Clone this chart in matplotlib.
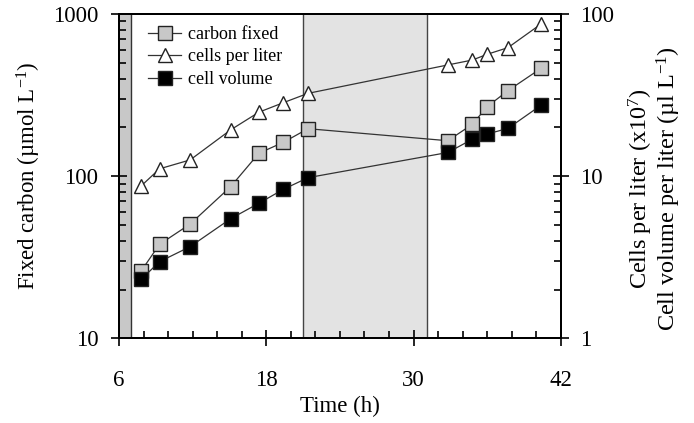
import matplotlib
matplotlib.use("Agg")
import matplotlib.pyplot as plt
from matplotlib.ticker import FixedLocator, MultipleLocator, LogLocator, NullFormatter, FuncFormatter

plt.rcParams['font.family'] = ['Liberation Serif', 'DejaVu Serif']
plt.rcParams['mathtext.fontset'] = 'custom'
plt.rcParams['mathtext.rm'] = 'Liberation Serif'
plt.rcParams['mathtext.it'] = 'Liberation Serif:italic'

# ---- data ----
time_h = [7.8, 9.3, 11.8, 15.1, 17.4, 19.4, 21.4, 32.8, 34.8, 36.0, 37.7, 40.4]
carbon_fixed = [26.0, 38.0, 50.7, 86.2, 138.5, 161.8, 196.2, 165.4, 208.9, 268.3, 336.7, 462.6]
cells_per_liter = [8.7, 11.1, 12.6, 19.3, 24.8, 28.4, 32.4, 48.5, 52.0, 56.4, 62.0, 86.8]
cell_volume = [2.31, 2.97, 3.68, 5.47, 6.81, 8.30, 9.79, 14.0, 16.9, 18.2, 19.7, 27.4]
dark_period_1 = (6.0, 7.0)
dark_period_2 = (21.0, 31.1)
x_ticks = [6, 18, 30, 42]

fig = plt.figure(figsize=(6.94, 4.23), dpi=100)
ax = fig.add_axes([0.1715, 0.200, 0.6365, 0.767])
ax2 = ax.twinx()

# shaded periods
ax.axvspan(*dark_period_1, facecolor='#c8c8c8', edgecolor='none', zorder=0)
ax.axvline(dark_period_1[1], color='#333333', lw=1.0, zorder=1)
ax.axvspan(*dark_period_2, facecolor='#e3e3e3', edgecolor='none', zorder=0)
ax.axvline(dark_period_2[0], color='#444444', lw=1.0, zorder=1)
ax.axvline(dark_period_2[1], color='#444444', lw=1.0, zorder=1)

line_kw = dict(color='#333333', lw=0.9, markeredgecolor='#222222', markeredgewidth=1.0)
h1, = ax.plot(time_h, carbon_fixed, marker='s', markersize=10, markerfacecolor='#c8c8c8',
              label='carbon fixed', **line_kw)
h2, = ax2.plot(time_h, cells_per_liter, marker='^', markersize=10.5, markerfacecolor='white',
               label='cells per liter', **line_kw)
h3, = ax2.plot(time_h, cell_volume, marker='s', markersize=10, markerfacecolor='black',
               label='cell volume', **line_kw)

ax.set_xlim(6, 42)
ax.set_yscale('log')
ax.set_ylim(10, 1000)
ax2.set_yscale('log')
ax2.set_ylim(1, 100)

ax.xaxis.set_major_locator(FixedLocator(x_ticks))
ax.xaxis.set_minor_locator(MultipleLocator(2))
fmt = FuncFormatter(lambda v, p: f"{v:g}")
ax.yaxis.set_major_locator(LogLocator(base=10, numticks=10))
ax.yaxis.set_minor_locator(LogLocator(base=10, subs=range(2, 10), numticks=20))
ax.yaxis.set_major_formatter(fmt)
ax.yaxis.set_minor_formatter(NullFormatter())
ax2.yaxis.set_major_locator(LogLocator(base=10, numticks=10))
ax2.yaxis.set_minor_locator(LogLocator(base=10, subs=range(2, 10), numticks=20))
ax2.yaxis.set_major_formatter(fmt)
ax2.yaxis.set_minor_formatter(NullFormatter())

fs = 16.5
ax.tick_params(axis='x', which='major', direction='inout', length=12, width=1.2, pad=17, labelsize=fs)
ax.tick_params(axis='x', which='minor', direction='in', length=5, width=1.2)
ax.tick_params(axis='y', which='major', direction='inout', length=12, width=1.2, pad=9, labelsize=fs)
ax.tick_params(axis='y', which='minor', direction='in', length=5, width=1.2)
ax2.tick_params(axis='y', which='major', direction='inout', length=12, width=1.2, pad=8, labelsize=fs)
ax2.tick_params(axis='y', which='minor', direction='in', length=5, width=1.2)
ax.tick_params(top=False, right=False)

for a in (ax, ax2):
    for s in a.spines.values():
        s.set_linewidth(1.4)

ax.set_xlabel('Time (h)', fontsize=fs, labelpad=3)
ax.set_ylabel(r'Fixed carbon (µmol L$^{-1}$)', fontsize=fs, labelpad=7)

fs_r = 17.5
fig.text(0.924, 0.555, r'Cells per liter (x10$^{7}$)', rotation=90, fontsize=fs_r,
         ha='center', va='center')
fig.text(0.964, 0.555, r'Cell volume per liter (µl L$^{-1}$)', rotation=90, fontsize=fs_r,
         ha='center', va='center')

leg = ax2.legend(handles=[h1, h2, h3], loc='upper left', bbox_to_anchor=(0.05, 0.985),
                 frameon=False, fontsize=13, handlelength=1.8, handletextpad=0.4,
                 labelspacing=0.3, borderaxespad=0)

fig.savefig('out.png', dpi=100)
